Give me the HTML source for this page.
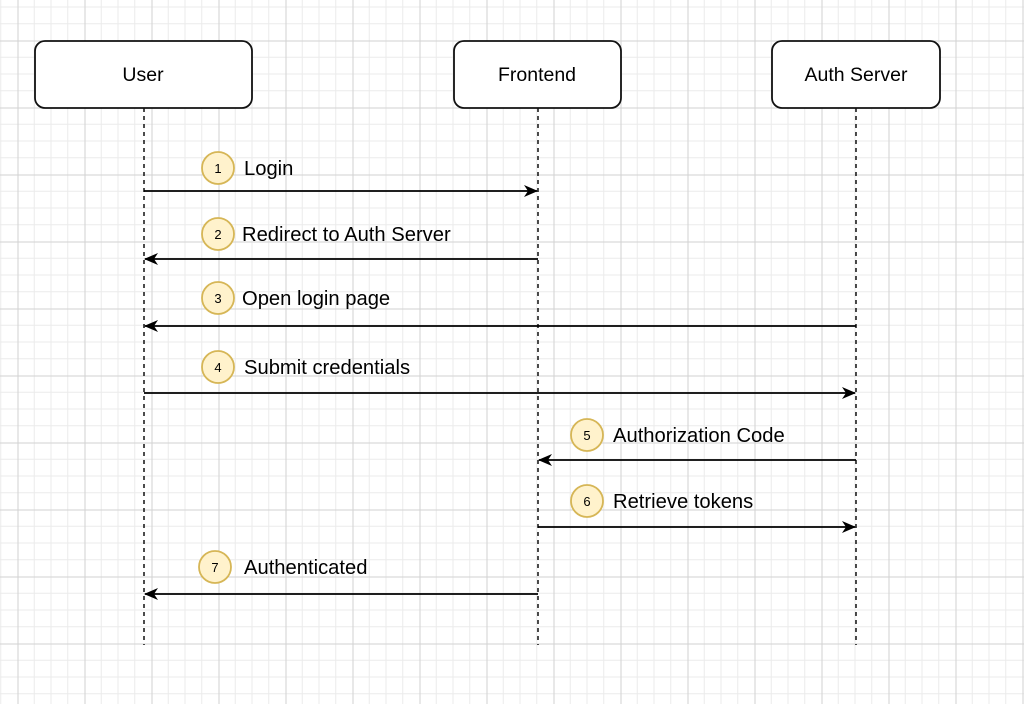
<!DOCTYPE html>
<html><head><style>
body{margin:0;width:1024px;height:704px;overflow:hidden;background:#fff;}
svg{display:block}
text{font-family:"Liberation Sans",sans-serif;fill:#000}
</style></head><body>
<svg width="1024" height="704" viewBox="0 0 1024 704">
<defs>
<pattern id="grid" width="67" height="67" patternUnits="userSpaceOnUse" x="17.5" y="40.5">
<path d="M16.75 0V67M33.5 0V67M50.25 0V67M0 16.75H67M0 33.5H67M0 50.25H67" stroke="#ebebeb" stroke-width="1" fill="none"/>
<path d="M0.5 0V67M0 0.5H67" stroke="#d2d2d2" stroke-width="1" fill="none"/>
</pattern>
<marker id="ah" markerWidth="14" markerHeight="12" refX="13" refY="6" orient="auto" markerUnits="userSpaceOnUse">
<path d="M0 0L14 6L0 12L4 6Z" fill="#000"/>
</marker>
</defs>
<rect width="1024" height="704" fill="url(#grid)"/>
<g stroke="#000" stroke-width="1.4" stroke-dasharray="4,4">
<line x1="144" y1="108" x2="144" y2="645"/>
<line x1="538" y1="108" x2="538" y2="645"/>
<line x1="856" y1="108" x2="856" y2="645"/>
</g>
<g fill="#fff" stroke="#111" stroke-width="1.8">
<rect x="35" y="41" width="217" height="67" rx="10"/>
<rect x="454" y="41" width="167" height="67" rx="10"/>
<rect x="772" y="41" width="168" height="67" rx="10"/>
</g>
<g font-size="19.5" text-anchor="middle">
<text x="143" y="81">User</text>
<text x="537" y="81">Frontend</text>
<text x="856" y="81">Auth Server</text>
</g>
<g stroke="#000" stroke-width="1.8" marker-end="url(#ah)">
<line x1="144" y1="191" x2="537" y2="191"/>
<line x1="538" y1="259" x2="145" y2="259"/>
<line x1="856" y1="326" x2="145" y2="326"/>
<line x1="144" y1="393" x2="855" y2="393"/>
<line x1="856" y1="460" x2="539" y2="460"/>
<line x1="538" y1="527" x2="855" y2="527"/>
<line x1="538" y1="594" x2="145" y2="594"/>
</g>
<g fill="#fff2cc" stroke="#d6b656" stroke-width="1.8">
<circle cx="218" cy="168" r="16"/>
<circle cx="218" cy="234" r="16"/>
<circle cx="218" cy="298" r="16"/>
<circle cx="218" cy="367" r="16"/>
<circle cx="587" cy="435" r="16"/>
<circle cx="587" cy="501" r="16"/>
<circle cx="215" cy="567" r="16"/>
</g>
<g font-size="13" text-anchor="middle">
<text x="218" y="173">1</text>
<text x="218" y="239">2</text>
<text x="218" y="303">3</text>
<text x="218" y="372">4</text>
<text x="587" y="440">5</text>
<text x="587" y="506">6</text>
<text x="215" y="572">7</text>
</g>
<g font-size="20.2">
<text x="244" y="175">Login</text>
<text x="242" y="241">Redirect to Auth Server</text>
<text x="242" y="305">Open login page</text>
<text x="244" y="374">Submit credentials</text>
<text x="613" y="442">Authorization Code</text>
<text x="613" y="508">Retrieve tokens</text>
<text x="244" y="574">Authenticated</text>
</g>
</svg>
</body></html>
